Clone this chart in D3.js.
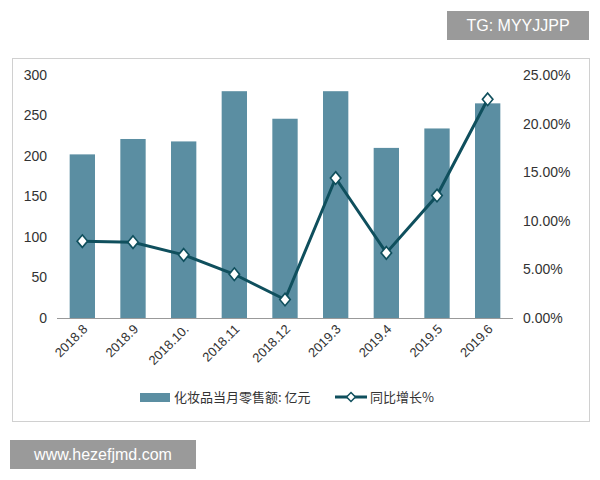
<!DOCTYPE html>
<html><head><meta charset="utf-8">
<script src="https://cdn.jsdelivr.net/npm/d3@7"></script>
<style>body{margin:0;background:#fff;font-family:"Noto Sans CJK SC","Noto Sans",sans-serif}</style>
</head><body><svg id="c" width="600" height="480"></svg>
<script>
const categories=["2018.8","2018.9","2018.10.","2018.11","2018.12","2019.3","2019.4","2019.5","2019.6"];
const sales=[202,221,218,280,246,280,210,234,265];
const growth=[7.9,7.8,6.5,4.5,1.9,14.4,6.7,12.6,22.5];
const leftTicks=[0,50,100,150,200,250,300];
const rightTicks=[0,5,10,15,20,25];
const NF="Liberation Sans, Arial, sans-serif";

const svg=d3.select("#c");
svg.append("rect").attr("x",12.5).attr("y",58.5).attr("width",577).attr("height",363).attr("fill","#fff").attr("stroke","#d0d0d0");
const L=57,R=513,T=75,B=318;
const x=d3.scaleBand().domain(categories).range([L,R]).paddingInner(0.5).paddingOuter(0.25);
const y=d3.scaleLinear().domain([0,300]).range([B,T]);
const y2=d3.scaleLinear().domain([0,25]).range([B,T]);

const gl=svg.append("g").attr("transform",`translate(${L},0)`).call(d3.axisLeft(y).tickValues(leftTicks).tickSize(0).tickPadding(10));
const gr=svg.append("g").attr("transform",`translate(${R},0)`).call(d3.axisRight(y2).tickValues(rightTicks).tickSize(0).tickPadding(10).tickFormat(d=>d.toFixed(2)+"%"));
[gl,gr].forEach(g=>{g.select(".domain").remove();g.selectAll("text").attr("font-size",14).attr("fill","#333").attr("font-family",NF);});
svg.append("line").attr("x1",L).attr("x2",R).attr("y1",B+0.5).attr("y2",B+0.5).attr("stroke","#999");

svg.selectAll(".bar").data(sales).enter().append("rect")
 .attr("x",(d,i)=>x(categories[i])).attr("width",x.bandwidth())
 .attr("y",d=>y(d)).attr("height",d=>B-y(d)).attr("fill","#5b8ea2");

const cx=i=>x(categories[i])+x.bandwidth()/2;
svg.append("path").datum(growth).attr("fill","none").attr("stroke","#0f4f5d").attr("stroke-width",3)
 .attr("d",d3.line().x((d,i)=>cx(i)).y(d=>y2(d)));
svg.selectAll(".m").data(growth).enter().append("path")
 .attr("d",d3.symbol(d3.symbolDiamond2,70)())
 .attr("transform",(d,i)=>`translate(${cx(i)},${y2(d)}) scale(1,1.2)`)
 .attr("fill","#fff").attr("stroke","#0f4f5d").attr("stroke-width",1.5);

svg.selectAll(".xl").data(categories).enter().append("text")
 .attr("transform",(d,i)=>`translate(${cx(i)+6},${B+12}) rotate(-45)`)
 .attr("text-anchor","end").attr("font-size",13).attr("fill","#333").attr("font-family",NF).text(d=>d);

// legend
svg.append("rect").attr("x",140).attr("y",393).attr("width",30).attr("height",9).attr("fill","#5b8ea2");
svg.append("text").attr("x",174).attr("y",402).attr("font-size",13).attr("fill","#333").text("化妆品当月零售额: 亿元");
svg.append("line").attr("x1",335).attr("x2",367).attr("y1",397).attr("y2",397).attr("stroke","#0f4f5d").attr("stroke-width",3);
svg.append("path").attr("d",d3.symbol(d3.symbolDiamond2,50)()).attr("transform","translate(351,397)").attr("fill","#fff").attr("stroke","#0f4f5d").attr("stroke-width",1.5);
svg.append("text").attr("x",370).attr("y",402).attr("font-size",13).attr("fill","#333").text("同比增长%");

// watermarks
svg.append("rect").attr("x",447).attr("y",11).attr("width",142).attr("height",29).attr("fill","#9a9a9a");
svg.append("text").attr("x",518).attr("y",31).attr("text-anchor","middle").attr("font-size",16).attr("fill","#fff").attr("font-family",NF).text("TG: MYYJJPP");
svg.append("rect").attr("x",10).attr("y",440).attr("width",186).attr("height",29).attr("fill","#9a9a9a");
svg.append("text").attr("x",103).attr("y",460).attr("text-anchor","middle").attr("font-size",16).attr("fill","#fff").attr("font-family",NF).text("www.hezefjmd.com");
</script></body></html>
